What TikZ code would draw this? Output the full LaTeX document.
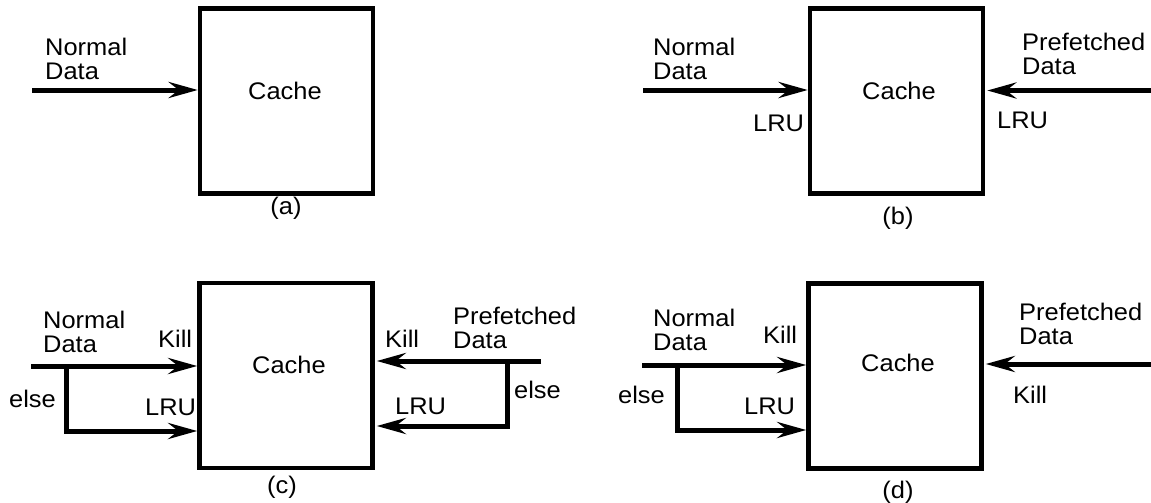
\documentclass[tikz,border=0pt]{standalone}
\usepackage{fontspec}
\setmainfont[FakeStretch=1.06]{Liberation Sans}
\usetikzlibrary{arrows.meta}
\begin{document}
\begin{tikzpicture}[x=1pt,y=-1pt,
  every node/.style={inner sep=0pt, font=\fontsize{24}{24}\selectfont},
  cachebox/.style={draw, line width=4.5pt, minimum width=173pt, minimum height=185pt},
  arr/.style={line width=5pt, -{Stealth[length=29pt,width=16pt,inset=10pt]}},
  lbl/.style={anchor=base west},
  two/.style={anchor=north west, align=left}]
\useasboundingbox (0,0) rectangle (1151,503);

% (a)
\node[cachebox] (ba) at (286.5,101) {};
\node (ca) at (285,91) {Cache};
\node (la) at (286,208) {(a)};
\node[two] (nda) at (45,37.5) {Normal\\Data};
\coordinate (sa) at (32,90);
\draw[arr] (sa) -- (sa -| ba.west);

% (b)
\node[cachebox] (bb) at (896.5,101) {};
\node (cb) at (899,91) {Cache};
\node (lb) at (898,218) {(b)};
\node[two] (ndb) at (653,37.5) {Normal\\Data};
\node[two] (pdb) at (1022,33) {Prefetched\\Data};
\node[lbl] (lrub1) at (753,131) {LRU};
\node[lbl] (lrub2) at (997,128) {LRU};
\coordinate (sb1) at (643,90);
\coordinate (sb2) at (1151,90.5);
\draw[arr] (sb1) -- (sb1 -| bb.west);
\draw[arr, shorten >=2pt] (sb2) -- (sb2 -| bb.east);

% (c)
\node[cachebox] (bc) at (286,375.5) {};
\node (cc) at (289,365) {Cache};
\node (lc) at (282,487) {(c)};
\node[two] (ndc) at (43,310.5) {Normal\\Data};
\node[two] (pdc) at (453,306.5) {Prefetched\\Data};
\node[lbl] (kc1) at (158,347) {Kill};
\node[lbl] (ec1t) at (9,407) {else};
\node[lbl] (lruc1) at (145,415) {LRU};
\node[lbl] (kc2) at (385,347) {Kill};
\node[lbl] (ec2t) at (514,398) {else};
\node[lbl] (lruc2) at (395,414) {LRU};
\coordinate (sc1) at (31,366);
\coordinate (jc1) at (66,366);
\coordinate (ec1) at (66,431);
\draw[arr] (sc1) -- (sc1 -| bc.west);
\draw[arr] (jc1) -- (ec1) -- (ec1 -| bc.west);
\coordinate (sc2) at (541,361);
\coordinate (jc2) at (507,361);
\coordinate (ec2) at (507,426);
\draw[arr, shorten >=2pt] (sc2) -- (sc2 -| bc.east);
\draw[arr, shorten >=2pt] (jc2) -- (ec2) -- (ec2 -| bc.east);

% (d)
\node[cachebox] (bd) at (895,376) {};
\node (cd) at (898,363) {Cache};
\node (ld) at (898,492) {(d)};
\node[two] (ndd) at (653,308.5) {Normal\\Data};
\node[two] (pdd) at (1019,303) {Prefetched\\Data};
\node[lbl] (kd1) at (763,343) {Kill};
\node[lbl] (ed1t) at (618,403) {else};
\node[lbl] (lrud1) at (744,414) {LRU};
\node[lbl] (kd2) at (1013,403) {Kill};
\coordinate (sd1) at (642,365);
\coordinate (jd1) at (677,365);
\coordinate (ed1) at (677,430);
\coordinate (sd2) at (1151,364);
\draw[arr] (sd1) -- (sd1 -| bd.west);
\draw[arr] (jd1) -- (ed1) -- (ed1 -| bd.west);
\draw[arr, shorten >=2pt] (sd2) -- (sd2 -| bd.east);
\end{tikzpicture}
\end{document}
